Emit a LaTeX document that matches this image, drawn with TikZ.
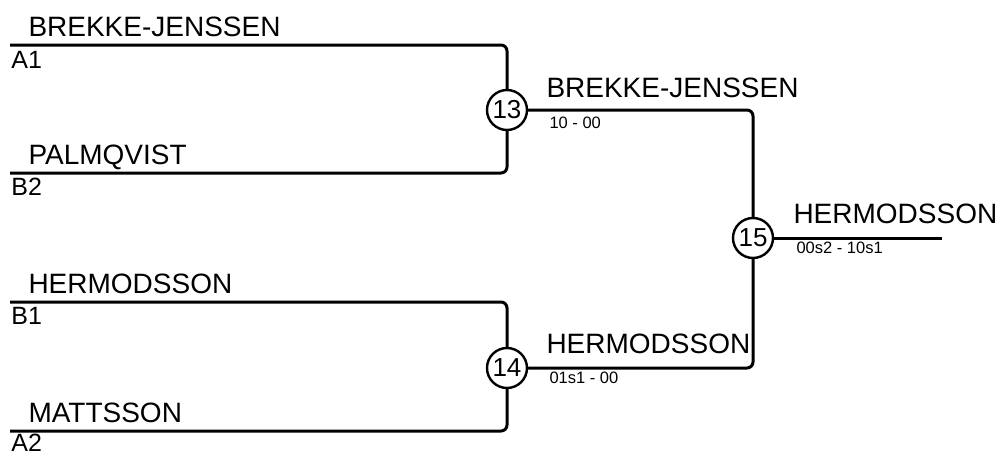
\documentclass[tikz,border=0pt]{standalone}
\usepackage{fontspec}
\setmainfont{Liberation Sans}
\usepackage{tikz}

\begin{document}
\begin{tikzpicture}
	[x=1pt, y=-1pt, line width=3pt, rounded corners=6pt,
	match/.style ={circle, draw, line width=2.4pt, minimum size=40pt, inner sep=0pt, fill=white, font=\fontsize{26}{28}\selectfont},
	player/.style ={anchor=base west, inner sep=0pt, font=\fontsize{28}{30}\selectfont},
	seed/.style ={anchor=base west, inner sep=0pt, font=\fontsize{25}{27}\selectfont},
	score/.style ={anchor=base west, inner sep=0pt, font=\fontsize{16.5}{18}\selectfont}]
	\useasboundingbox (0,0) rectangle (997,455);
	% first round
	\coordinate (a1) at (10,45);
	\coordinate (b2) at (10,173);
	\coordinate (b1) at (10,302);
	\coordinate (a2) at (10,431);
	\node[player] (pa1) at (27,36) {BREKKE-JENSSEN};
	\node[seed] (sa1) at (10,68) {A1};
	\node[player] (pb2) at (27,164) {PALMQVIST};
	\node[seed] (sb2) at (10,195) {B2};
	\node[player] (pb1) at (27,293) {HERMODSSON};
	\node[seed] (sb1) at (10,324) {B1};
	\node[player] (pa2) at (27,422) {MATTSSON};
	\node[seed] (sa2) at (10,451) {A2};
	% matches
	\node[match] (m13) at (507,110) {13};
	\node[match] (m14) at (507,368) {14};
	\node[match] (m15) at (753,238) {15};
	\coordinate (fin) at (942,238);
	\draw (a1) -| (m13);
	\draw (b2) -| (m13);
	\draw (b1) -| (m14);
	\draw (a2) -| (m14);
	\draw (m13) -| (m15);
	\draw (m14) -| (m15);
	\draw (m15) -- (fin);
	% winners and scores
	\node[player] (w13) at (545,97) {BREKKE-JENSSEN};
	\node[score] (r13) at (548,128) {10 - 00};
	\node[player] (w14) at (545,353) {HERMODSSON};
	\node[score] (r14) at (548,383) {01s1 - 00};
	\node[player] (w15) at (792,223) {HERMODSSON};
	\node[score] (r15) at (795,253) {00s2 - 10s1};
\end{tikzpicture}
\end{document}
